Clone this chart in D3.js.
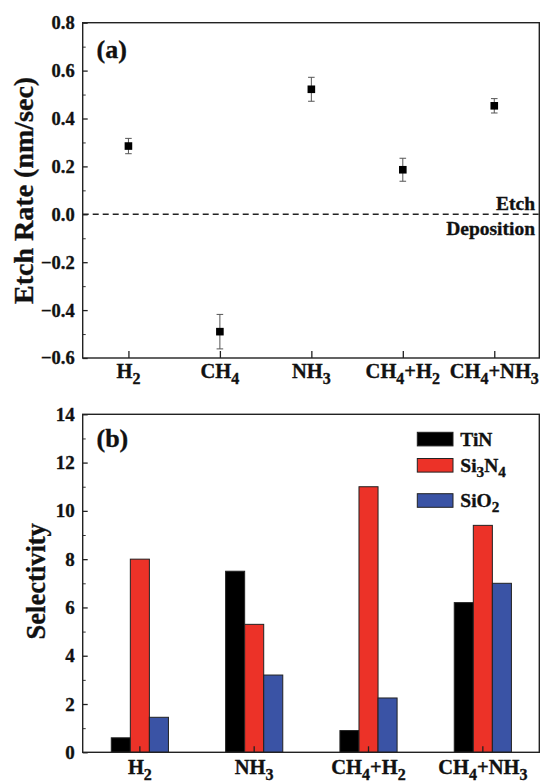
<!DOCTYPE html>
<html>
<head>
<meta charset="utf-8">
<script src="https://cdn.jsdelivr.net/npm/d3@7"></script>
<style>
  body { margin: 0; background: #fff; }
  text { font-family: 'Liberation Serif', 'Times New Roman', serif; font-weight: bold; stroke: #111; stroke-width: 0.35px; }
</style>
</head>
<body>
<script>
/* global d3 */

// Data - panel (a)
const gasesA = ['H2', 'CH4', 'NH3', 'CH4+H2', 'CH4+NH3'];
const etchRate = [0.285, -0.49, 0.522, 0.186, 0.453];
const etchErr = [0.032, 0.072, 0.05, 0.048, 0.03];
const ticksA = [-0.6, -0.4, -0.2, 0.0, 0.2, 0.4, 0.6, 0.8];

// Data - panel (b)
const gasesB = ['H2', 'NH3', 'CH4+H2', 'CH4+NH3'];
const materials = ['TiN', 'Si3N4', 'SiO2'];
const tin = [0.6, 7.5, 0.9, 6.2];
const si3n4 = [8.0, 5.3, 11.0, 9.4];
const sio2 = [1.45, 3.2, 2.25, 7.0];
const ticksB = [0, 2, 4, 6, 8, 10, 12, 14];

const colors = ['#000000', '#ec3228', '#3a53a5'];

const width = 541;
const height = 783;

const svg = d3.select('body')
.append('svg')
.attr('width', width)
.attr('height', height);

// write labels like CH4 with subscript digits
function chemText(sel, str, size) {
    const parts = str.match(/\d+|\D+/g);
    const shift = size * 0.27;
    let low = false;
    parts.forEach(p => {
        const isNum = /\d/.test(p);
        const t = sel.append('tspan').text(p);
        if (isNum) {
            t.attr('font-size', size * 0.78).attr('dy', low ? 0 : shift);
            low = true;
        } else {
            t.attr('font-size', size).attr('dy', low ? -shift : 0);
            low = false;
        }
    });
}

// ---------------- Panel (a) ----------------
const left = 82.7;
const right = 540;
const topA = 22.7;
const bottomA = 358;

const xA = d3.scalePoint()
.domain(gasesA)
.range([left, right])
.padding(0.5);

const yA = d3.scaleLinear()
.domain([-0.6, 0.8])
.range([bottomA, topA]);

const gA = svg.append('g');

// minor ticks
gA.append('g')
.attr('transform', `translate(${left},0)`)
.call(d3.axisLeft(yA).tickValues(d3.range(-0.5, 0.8, 0.2)).tickSize(-3).tickFormat(''))
.call(g => g.select('.domain').remove())
.selectAll('line').attr('stroke', '#333');

gA.append('g')
.attr('transform', `translate(${left},0)`)
.call(d3.axisLeft(yA).tickValues(ticksA).tickSize(-5).tickPadding(8).tickFormat(d3.format('.1f')))
.call(g => g.select('.domain').remove())
.call(g => g.selectAll('text').attr('font-size', 18.5).attr('font-family', null).attr('fill', '#111'))
.selectAll('line').attr('stroke', '#222').attr('stroke-width', 1.3);

const xAxisA = gA.append('g')
.attr('transform', `translate(0,${bottomA})`)
.call(d3.axisBottom(xA).tickSize(-7).tickFormat(''))
.call(g => g.select('.domain').remove());
xAxisA.selectAll('line').attr('stroke', '#222').attr('stroke-width', 1.3);

gA.selectAll('.xlabA')
.data(gasesA)
.enter()
.append('text')
.attr('class', 'xlabA')
.attr('x', d => xA(d))
.attr('y', 378)
.attr('text-anchor', 'middle')
.attr('fill', '#111')
.each(function (d) { chemText(d3.select(this), d, 20.5); });

// zero line
gA.append('line')
.attr('x1', left)
.attr('x2', right)
.attr('y1', yA(0))
.attr('y2', yA(0))
.attr('stroke', '#222')
.attr('stroke-width', 1.4)
.attr('stroke-dasharray', '6,4');

gA.append('text')
.attr('x', 535)
.attr('y', 210)
.attr('text-anchor', 'end')
.attr('font-size', 19.5)
.attr('fill', '#111')
.text('Etch');

gA.append('text')
.attr('x', 535)
.attr('y', 235)
.attr('text-anchor', 'end')
.attr('font-size', 19.5)
.attr('fill', '#111')
.text('Deposition');

// error bars
const errG = gA.selectAll('.err')
.data(gasesA)
.enter()
.append('g')
.attr('stroke', '#555')
.attr('stroke-width', 1);

errG.append('line')
.attr('x1', d => xA(d))
.attr('x2', d => xA(d))
.attr('y1', (d, i) => yA(etchRate[i] + etchErr[i]))
.attr('y2', (d, i) => yA(etchRate[i] - etchErr[i]));

errG.append('line')
.attr('x1', d => xA(d) - 3.3)
.attr('x2', d => xA(d) + 3.3)
.attr('y1', (d, i) => yA(etchRate[i] + etchErr[i]))
.attr('y2', (d, i) => yA(etchRate[i] + etchErr[i]));

errG.append('line')
.attr('x1', d => xA(d) - 3.3)
.attr('x2', d => xA(d) + 3.3)
.attr('y1', (d, i) => yA(etchRate[i] - etchErr[i]))
.attr('y2', (d, i) => yA(etchRate[i] - etchErr[i]));

gA.selectAll('.pt')
.data(gasesA)
.enter()
.append('rect')
.attr('x', d => xA(d) - 3.8)
.attr('y', (d, i) => yA(etchRate[i]) - 3.8)
.attr('width', 7.6)
.attr('height', 7.6)
.attr('fill', '#000');

// frame
gA.append('rect')
.attr('x', left)
.attr('y', topA)
.attr('width', right - left - 0.7)
.attr('height', bottomA - topA)
.attr('fill', 'none')
.attr('stroke', '#222')
.attr('stroke-width', 1.4);

gA.append('text')
.attr('x', 96.5)
.attr('y', 58)
.attr('font-size', 26)
.attr('fill', '#111')
.text('(a)');

gA.append('text')
.attr('transform', `translate(33,${(topA + bottomA) / 2}) rotate(-90)`)
.attr('text-anchor', 'middle')
.attr('font-size', 28)
.attr('fill', '#111')
.text('Etch Rate (nm/sec)');

// ---------------- Panel (b) ----------------
const topB = 414.3;
const bottomB = 752.3;

const x0 = d3.scaleBand()
.domain(gasesB)
.range([left, right])
.paddingInner(0.5)
.paddingOuter(0.25);

const x1 = d3.scaleBand()
.domain(materials)
.range([0, x0.bandwidth()]);

const yB = d3.scaleLinear()
.domain([0, 14])
.range([bottomB, topB]);

const gB = svg.append('g');

const series = [tin, si3n4, sio2];
const groups = gB.selectAll('.grp')
.data(gasesB)
.enter()
.append('g')
.attr('transform', d => `translate(${x0(d)},0)`);

groups.selectAll('rect')
.data((d, gi) => materials.map((m, mi) => ({ m, v: series[mi][gi], c: colors[mi] })))
.enter()
.append('rect')
.attr('x', d => x1(d.m))
.attr('y', d => yB(d.v))
.attr('width', x1.bandwidth())
.attr('height', d => bottomB - yB(d.v))
.attr('fill', d => d.c)
.attr('stroke', '#222')
.attr('stroke-width', 1);

gB.append('g')
.attr('transform', `translate(${left},0)`)
.call(d3.axisLeft(yB).tickValues(d3.range(1, 14, 2)).tickSize(-3).tickFormat(''))
.call(g => g.select('.domain').remove())
.selectAll('line').attr('stroke', '#333');

gB.append('g')
.attr('transform', `translate(${left},0)`)
.call(d3.axisLeft(yB).tickValues(ticksB).tickSize(-5).tickPadding(8))
.call(g => g.select('.domain').remove())
.call(g => g.selectAll('text').attr('font-size', 19).attr('font-family', null).attr('fill', '#111'))
.selectAll('line').attr('stroke', '#222').attr('stroke-width', 1.3);

gB.append('g')
.attr('transform', `translate(0,${bottomB})`)
.call(d3.axisBottom(x0).tickSize(-6).tickFormat(''))
.call(g => g.select('.domain').remove())
.selectAll('line').attr('stroke', '#222').attr('stroke-width', 1.3);

gB.selectAll('.xlabB')
.data(gasesB)
.enter()
.append('text')
.attr('x', d => x0(d) + x0.bandwidth() / 2)
.attr('y', 774)
.attr('text-anchor', 'middle')
.attr('fill', '#111')
.each(function (d) { chemText(d3.select(this), d, 20.5); });

gB.append('rect')
.attr('x', left)
.attr('y', topB)
.attr('width', right - left - 0.7)
.attr('height', bottomB - topB)
.attr('fill', 'none')
.attr('stroke', '#222')
.attr('stroke-width', 1.4);

gB.append('text')
.attr('x', 96.5)
.attr('y', 447)
.attr('font-size', 26)
.attr('fill', '#111')
.text('(b)');

gB.append('text')
.attr('transform', `translate(45,${(topB + bottomB) / 2 - 2}) rotate(-90)`)
.attr('text-anchor', 'middle')
.attr('font-size', 26.5)
.attr('fill', '#111')
.text('Selectivity');

// legend
const legendY = [432.3, 458.5, 493.7];
const legend = gB.selectAll('.leg')
.data(materials)
.enter()
.append('g')
.attr('transform', (d, i) => `translate(417.3,${legendY[i]})`);

legend.append('rect')
.attr('width', 35.7)
.attr('height', 13.6)
.attr('fill', (d, i) => colors[i])
.attr('stroke', '#222')
.attr('stroke-width', 1);

legend.append('text')
.attr('x', 43)
.attr('y', 13.2)
.attr('fill', '#111')
.each(function (d) { chemText(d3.select(this), d, 19.5); });
</script>
</body>
</html>
